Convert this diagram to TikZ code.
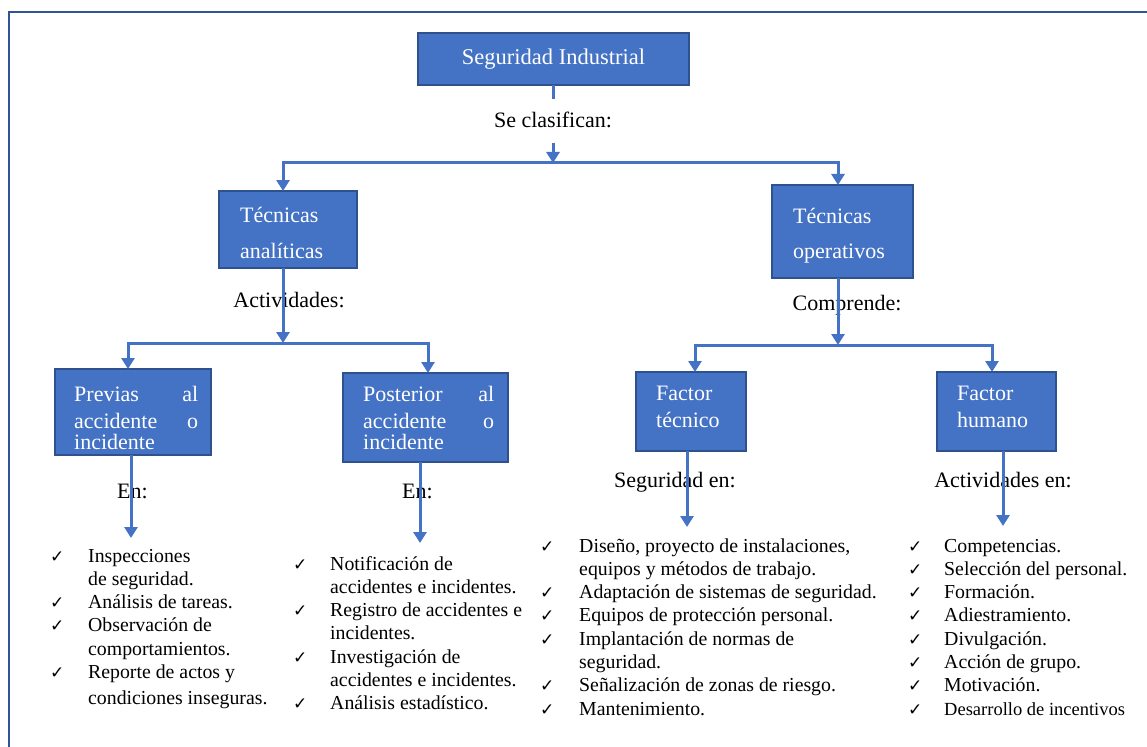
\documentclass[tikz,border=0pt]{standalone}
\usepackage{fontspec}
\setmainfont{Liberation Serif}
\newfontfamily\symfont{DejaVu Sans}
\usetikzlibrary{arrows.meta,calc}
\definecolor{boxfill}{HTML}{4472C4}
\definecolor{boxline}{HTML}{2F528F}
\definecolor{framecol}{HTML}{2F5597}
\definecolor{conncol}{HTML}{4472C4}
\newcommand{\ck}{{\symfont\fontsize{17}{17}\selectfont ✓}}
\newcommand{\boxlines}[2]{\fontsize{22}{#1}\selectfont\begin{tabular}[t]{@{}l@{}}#2\end{tabular}}
\newcommand{\listfont}{\fontsize{19.8}{23.3}\selectfont}
\begin{document}
\begin{tikzpicture}[x=1pt,y=-1pt,
  box/.style={draw=boxline, fill=boxfill, line width=1.3pt, inner sep=0pt, outer sep=0pt, anchor=north west},
  boxtext/.style={text=white, inner sep=0pt, anchor=base west},
  lbl/.style={inner sep=0pt, anchor=base, font=\fontsize{22}{26}\selectfont},
  listnode/.style={inner sep=0pt, anchor=base west},
  link/.style={draw=conncol, line width=3pt},
  arr/.style={draw=conncol, line width=3pt, -{Triangle[width=13pt,length=11pt]}}
]
\useasboundingbox (0,0) rectangle (1147,746);
\fill[white] (0,0) rectangle (1147,746);
\draw[framecol, line width=2pt] (9,760) -- (9,12) -- (1160,12);

% boxes
\node[box, minimum width=271pt, minimum height=52pt, text=white,
      font=\fontsize{22.5}{26}\selectfont] (title) at (418,33) {Seguridad Industrial};
\node[box, minimum width=138pt, minimum height=77pt] (ta) at (219,191) {};
\node[box, minimum width=141pt, minimum height=93pt] (to) at (772,185) {};
\node[box, minimum width=156pt, minimum height=86pt] (prev) at (55,369) {};
\node[box, minimum width=165pt, minimum height=89pt] (post) at (343,373) {};
\node[box, minimum width=110pt, minimum height=79pt] (ft) at (636,372) {};
\node[box, minimum width=119pt, minimum height=79pt] (fh) at (937,372) {};

% box texts
\node[boxtext] (taT) at (240,222) {\boxlines{36}{Técnicas\\analíticas}};
\node[boxtext] (toT) at (793,223) {\boxlines{35}{Técnicas\\operativos}};
\node[boxtext] (prevT) at (74,401) {\boxlines{19}{\makebox[124pt][s]{Previas\hfill al}\\[7pt]\makebox[124pt][s]{accidente\hfill o}\\incidente}};
\node[boxtext] (postT) at (363,401) {\boxlines{19}{\makebox[131pt][s]{Posterior\hfill al}\\[7pt]\makebox[131pt][s]{accidente\hfill o}\\incidente}};
\node[boxtext] (ftT) at (656,400) {\boxlines{27}{Factor\\técnico}};
\node[boxtext] (fhT) at (957,400) {\boxlines{27}{Factor\\humano}};

% labels
\node[lbl] (secl) at (553,128) {Se clasifican:};
\node[lbl] (activ) at (289,307) {Actividades:};
\node[lbl] (compr) at (847,310) {Comprende:};
\node[lbl] (en1) at (132.5,498) {En:};
\node[lbl] (en2) at (417.5,498) {En:};
\node[lbl] (segen) at (675,487) {Seguridad en:};
\node[lbl] (acten) at (1003,487) {Actividades en:};

% lists
\node[listnode] (list1) at (50,562) {\listfont\begin{tabular}[t]{@{}p{38pt}@{}l@{}}
\ck & Inspecciones\\
    & de seguridad.\\
\ck & Análisis de tareas.\\
\ck & Observación de\\
    & comportamientos.\\
\ck & Reporte de actos y\\[2.7pt]
    & condiciones inseguras.
\end{tabular}};
\node[listnode] (list2) at (293,570) {\listfont\begin{tabular}[t]{@{}p{37pt}@{}l@{}}
\ck & Notificación de\\
    & accidentes e incidentes.\\
\ck & Registro de accidentes e\\
    & incidentes.\\
\ck & Investigación de\\
    & accidentes e incidentes.\\
\ck & Análisis estadístico.
\end{tabular}};
\node[listnode] (list3) at (540,552) {\listfont\begin{tabular}[t]{@{}p{39pt}@{}l@{}}
\ck & Diseño, proyecto de instalaciones,\\
    & equipos y métodos de trabajo.\\
\ck & Adaptación de sistemas de seguridad.\\
\ck & Equipos de protección personal.\\
\ck & Implantación de normas de\\
    & seguridad.\\
\ck & Señalización de zonas de riesgo.\\
\ck & Mantenimiento.
\end{tabular}};
\node[listnode] (list4) at (908,552) {\listfont\begin{tabular}[t]{@{}p{36pt}@{}l@{}}
\ck & Competencias.\\
\ck & Selección del personal.\\
\ck & Formación.\\
\ck & Adiestramiento.\\
\ck & Divulgación.\\
\ck & Acción de grupo.\\
\ck & Motivación.\\
\ck & {\fontsize{18.5}{23.3}\selectfont Desarrollo de incentivos}
\end{tabular}};

% coordinates
\coordinate (t1) at (553,99);
\coordinate (s1) at (553,143);
\coordinate (j1) at (553,163);
\coordinate (j2) at (283,343);
\coordinate (j3) at (838,345);
\coordinate (e1) at (131,538);
\coordinate (e2) at (420,543);
\coordinate (e3) at (687,527);
\coordinate (e4) at (1003,526);

% connectors
\draw[link] (title.south -| t1) -- (t1);
\draw[arr] (s1) -- (j1);
\draw[arr] (j1) -| ($(ta.north)+(-5,0)$);
\draw[arr] (j1) -| ($(to.north)+(-4.5,0)$);
\draw[arr] (ta.south -| j2) -- (j2);
\draw[arr] (j2) -| ($(prev.north)+(-5,0)$);
\draw[arr] (j2) -| ($(post.north)+(2.5,0)$);
\draw[arr] (to.south -| j3) -- (j3);
\draw[arr] (j3) -| ($(ft.north)+(4,0)$);
\draw[arr] (j3) -| ($(fh.north)+(-4.5,0)$);
\draw[arr] (prev.south -| e1) -- (e1);
\draw[arr] (post.south -| e2) -- (e2);
\draw[arr] (ft.south -| e3) -- (e3);
\draw[arr] (fh.south -| e4) -- (e4);
\end{tikzpicture}
\end{document}
